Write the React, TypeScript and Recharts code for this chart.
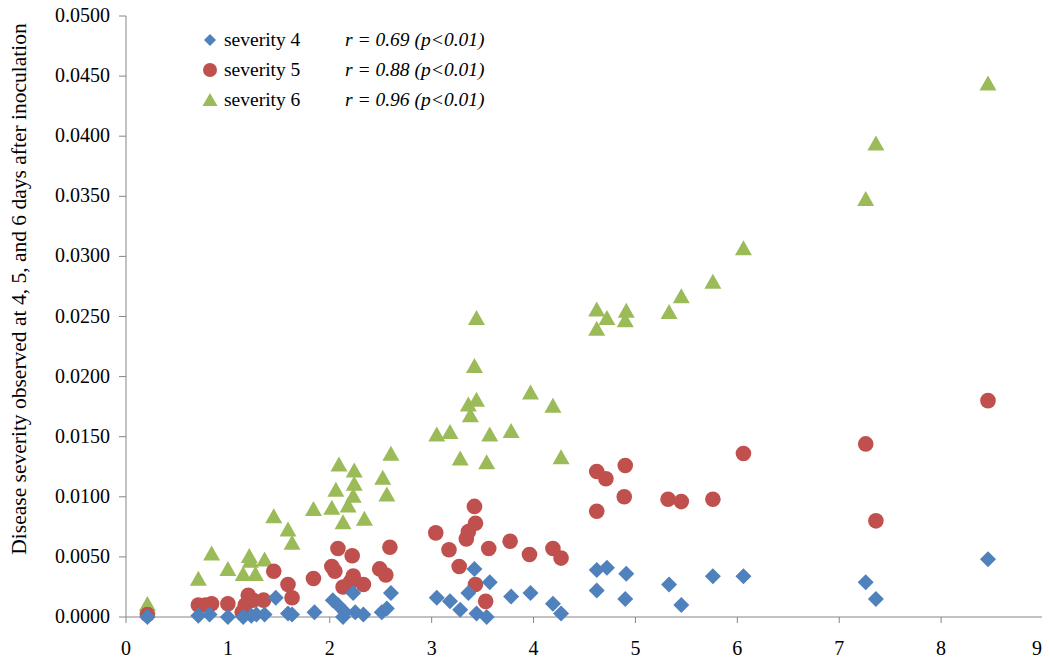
import React from 'react';
import { ScatterChart, Scatter, XAxis, YAxis, Label } from 'recharts';

const sev4X = [0.21, 0.71, 0.82, 1.0, 1.15, 1.23, 1.28, 1.36, 1.47, 1.59, 1.63, 1.85, 2.03, 2.08, 2.13, 2.15, 2.23, 2.25, 2.33, 2.51, 2.56, 2.6, 3.05, 3.18, 3.28, 3.36, 3.42, 3.44, 3.54, 3.57, 3.78, 3.97, 4.19, 4.27, 4.62, 4.62, 4.72, 4.9, 4.91, 5.33, 5.45, 5.76, 6.06, 7.26, 7.36, 8.46];
const sev4Y = [0.0, 0.0001, 0.0002, 0.0, 0.0, 0.0001, 0.0002, 0.0002, 0.0016, 0.0003, 0.0002, 0.0004, 0.0014, 0.001, 0.0, 0.0004, 0.002, 0.0004, 0.0002, 0.0004, 0.0007, 0.002, 0.0016, 0.0013, 0.0006, 0.002, 0.004, 0.0003, 0.0, 0.0029, 0.0017, 0.002, 0.0011, 0.0003, 0.0039, 0.0022, 0.0041, 0.0015, 0.0036, 0.0027, 0.001, 0.0034, 0.0034, 0.0029, 0.0015, 0.0048];

const sev5X = [0.21, 0.71, 0.78, 0.84, 1.0, 1.14, 1.17, 1.2, 1.25, 1.35, 1.45, 1.59, 1.63, 1.84, 2.02, 2.05, 2.08, 2.13, 2.2, 2.22, 2.23, 2.33, 2.49, 2.55, 2.59, 3.04, 3.17, 3.27, 3.34, 3.36, 3.42, 3.43, 3.43, 3.53, 3.56, 3.77, 3.96, 4.19, 4.27, 4.62, 4.62, 4.71, 4.89, 4.9, 5.32, 5.45, 5.76, 6.06, 7.26, 7.36, 8.46];
const sev5Y = [0.0002, 0.001, 0.001, 0.0011, 0.0011, 0.0004, 0.001, 0.0018, 0.0014, 0.0014, 0.0038, 0.0027, 0.0016, 0.0032, 0.0042, 0.0038, 0.0057, 0.0025, 0.0029, 0.0051, 0.0034, 0.0027, 0.004, 0.0035, 0.0058, 0.007, 0.0056, 0.0042, 0.0065, 0.0071, 0.0092, 0.0078, 0.0027, 0.0013, 0.0057, 0.0063, 0.0052, 0.0057, 0.0049, 0.0121, 0.0088, 0.0115, 0.01, 0.0126, 0.0098, 0.0096, 0.0098, 0.0136, 0.0144, 0.008, 0.018];

const sev6X = [0.21, 0.71, 0.84, 1.0, 1.15, 1.21, 1.22, 1.27, 1.36, 1.45, 1.59, 1.63, 1.84, 2.02, 2.06, 2.09, 2.13, 2.18, 2.23, 2.24, 2.24, 2.34, 2.52, 2.56, 2.6, 3.05, 3.18, 3.28, 3.36, 3.38, 3.42, 3.44, 3.44, 3.54, 3.57, 3.78, 3.97, 4.19, 4.27, 4.62, 4.62, 4.72, 4.9, 4.91, 5.33, 5.45, 5.76, 6.06, 7.26, 7.36, 8.46];
const sev6Y = [0.001, 0.0031, 0.0052, 0.0039, 0.0035, 0.005, 0.0046, 0.0035, 0.0047, 0.0083, 0.0072, 0.0061, 0.0089, 0.009, 0.0105, 0.0126, 0.0078, 0.0092, 0.01, 0.011, 0.0121, 0.0081, 0.0115, 0.0101, 0.0135, 0.0151, 0.0153, 0.0131, 0.0176, 0.0167, 0.0208, 0.018, 0.0248, 0.0128, 0.0151, 0.0154, 0.0186, 0.0175, 0.0132, 0.0255, 0.0239, 0.0248, 0.0246, 0.0254, 0.0253, 0.0266, 0.0278, 0.0306, 0.0347, 0.0393, 0.0443];

const xTicks = [0, 1, 2, 3, 4, 5, 6, 7, 8, 9];
const yTicks = [0, 0.005, 0.01, 0.015, 0.02, 0.025, 0.03, 0.035, 0.04, 0.045, 0.05];
const seriesNames = ['severity 4', 'severity 5', 'severity 6'];
const rLabels = ['r = 0.69 (p<0.01)', 'r = 0.88 (p<0.01)', 'r = 0.96 (p<0.01)'];
const yTitle = 'Disease severity observed at 4, 5, and 6 days after inoculation';

const BLUE = '#4F81BD';
const RED = '#C0504D';
const GREEN = '#9BBB59';
const AXIS = '#868686';
const FONT = "'Liberation Serif', 'Times New Roman', serif";

const toPoints = (xs: number[], ys: number[]) => xs.map((x, i) => ({ x, y: ys[i] }));
const data4 = toPoints(sev4X, sev4Y);
const data5 = toPoints(sev5X, sev5Y);
const data6 = toPoints(sev6X, sev6Y);

const DiamondShape = (p: any) => (
  <polygon
    points={`${p.cx},${p.cy - 8} ${p.cx + 8},${p.cy} ${p.cx},${p.cy + 8} ${p.cx - 8},${p.cy}`}
    fill={BLUE}
  />
);
const CircleShape = (p: any) => <circle cx={p.cx} cy={p.cy} r={7.8} fill={RED} />;
const TriangleShape = (p: any) => (
  <polygon
    points={`${p.cx},${p.cy - 9} ${p.cx + 8.5},${p.cy + 6} ${p.cx - 8.5},${p.cy + 6}`}
    fill={GREEN}
  />
);

const legendMarkers = [
  <polygon key="d" points="8,2 14,8 8,14 2,8" fill={BLUE} />,
  <circle key="c" cx={8} cy={8} r={7} fill={RED} />,
  <polygon key="t" points="8,1 15.5,14 0.5,14" fill={GREEN} />,
];

const XTick = (p: any) => {
  const last = p.payload.value === xTicks[xTicks.length - 1];
  return (
    <text
      x={last ? p.x - 1 : p.x}
      y={p.y + 24}
      textAnchor={last ? 'end' : 'middle'}
      style={{ fontFamily: FONT, fontSize: 20 }}
      fill="#000"
    >
      {p.payload.value}
    </text>
  );
};

const YTick = (p: any) => (
  <text
    x={p.x}
    y={p.y}
    dy={6}
    textAnchor="end"
    style={{ fontFamily: FONT, fontSize: 20 }}
    fill="#000"
  >
    {Number(p.payload.value).toFixed(4)}
  </text>
);

const YTitle = () => {
  const cx = 11;
  const cy = 281;
  return (
    <text
      x={cx}
      y={cy}
      transform={`rotate(-90 ${cx} ${cy})`}
      textAnchor="middle"
      dominantBaseline="central"
      style={{ fontFamily: FONT, fontSize: 21.5 }}
      fill="#000"
    >
      {yTitle}
    </text>
  );
};

export default function App() {
  return (
    <div style={{ position: 'relative', width: 1034, height: 651, fontFamily: FONT }}>
      <style>{'.recharts-surface{overflow:visible !important;} .recharts-wrapper{overflow:visible;}'}</style>
      <ScatterChart width={1042} height={651} margin={{ top: 8, right: 7, left: 0, bottom: 0 }}>
        <XAxis
          type="number"
          dataKey="x"
          domain={[0, 9]}
          ticks={xTicks}
          interval={0}
          height={42}
          tickSize={6}
          tickMargin={8}
          stroke={AXIS}
          tick={<XTick />}
        />
        <YAxis
          type="number"
          dataKey="y"
          domain={[0, 0.05]}
          ticks={yTicks}
          interval={0}
          width={118}
          tickSize={7}
          tickMargin={9}
          stroke={AXIS}
          tick={<YTick />}
        >
          <Label content={<YTitle />} />
        </YAxis>
        <Scatter name={seriesNames[2]} data={data6} shape={TriangleShape} isAnimationActive={false} />
        <Scatter name={seriesNames[1]} data={data5} shape={CircleShape} isAnimationActive={false} />
        <Scatter name={seriesNames[0]} data={data4} shape={DiamondShape} isAnimationActive={false} />
      </ScatterChart>
      <div
        style={{
          position: 'absolute',
          left: 194,
          top: 17,
          fontFamily: FONT,
          fontSize: 19.5,
          color: '#000',
        }}
      >
        {seriesNames.map((name, i) => (
          <div key={name} style={{ display: 'flex', alignItems: 'center', height: 30 }}>
            <svg width={16} height={16} style={{ display: 'block' }}>
              {legendMarkers[i]}
            </svg>
            <span style={{ marginLeft: 6, width: 121, whiteSpace: 'pre' }}>{name}</span>
            <span style={{ fontStyle: 'italic', whiteSpace: 'pre' }}>{rLabels[i]}</span>
          </div>
        ))}
      </div>
    </div>
  );
}
